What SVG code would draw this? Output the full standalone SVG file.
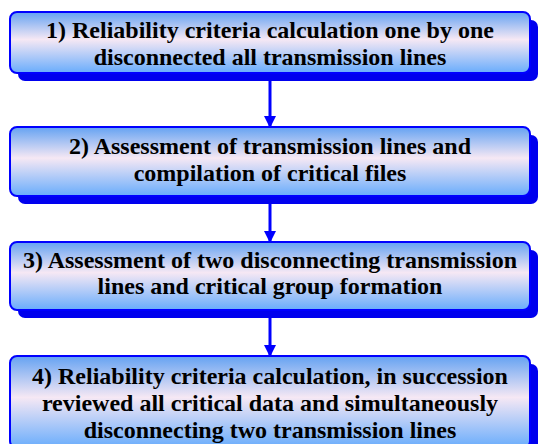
<svg xmlns="http://www.w3.org/2000/svg" width="539" height="444" viewBox="0 0 539 444">
  <defs>
    <linearGradient id="boxFill" x1="0" y1="0" x2="0" y2="1">
      <stop offset="0" stop-color="#64a2f2"/>
      <stop offset="0.45" stop-color="#f6e8f4"/>
      <stop offset="1" stop-color="#68acfc"/>
    </linearGradient>
    <marker id="arrowHead" viewBox="0 0 12 12" refX="11" refY="6" markerWidth="12" markerHeight="12" markerUnits="userSpaceOnUse" orient="auto">
      <path d="M0,0 L12,6 L0,12 Z" fill="#0000ff"/>
    </marker>
  </defs>
  <style>
    .shadow { fill: #0000ee; }
    .box { fill: url(#boxFill); stroke: #0000ff; stroke-width: 2; }
    .label { font-family: "Liberation Serif", "Times New Roman", serif; font-weight: bold; font-size: 24px; fill: #000; text-anchor: middle; }
    .conn { stroke: #0000ff; stroke-width: 3; fill: none; marker-end: url(#arrowHead); }
  </style>
  <rect width="539" height="444" fill="#ffffff"/>

  <g id="connectors">
    <line class="conn" x1="270" y1="81" x2="270" y2="127"/>
    <line class="conn" x1="270" y1="204" x2="270" y2="242"/>
    <line class="conn" x1="270" y1="318" x2="270" y2="356"/>
  </g>

  <g id="step1">
    <rect class="shadow" x="18" y="20" width="520" height="61" rx="7"/>
    <rect class="box" x="10" y="12" width="520" height="61" rx="7"/>
    <text class="label" x="270" y="38">1) Reliability criteria calculation one by one</text>
    <text class="label" x="270" y="65">disconnected all transmission lines</text>
  </g>

  <g id="step2">
    <rect class="shadow" x="18" y="135" width="520" height="69" rx="7"/>
    <rect class="box" x="10" y="127" width="520" height="69" rx="7"/>
    <text class="label" x="270" y="154">2) Assessment of transmission lines and</text>
    <text class="label" x="270" y="181">compilation of critical files</text>
  </g>

  <g id="step3">
    <rect class="shadow" x="18" y="250" width="520" height="68" rx="7"/>
    <rect class="box" x="10" y="242" width="520" height="68" rx="7"/>
    <text class="label" x="270" y="268">3) Assessment of two disconnecting transmission</text>
    <text class="label" x="270" y="294">lines and critical group formation</text>
  </g>

  <g id="step4">
    <rect class="shadow" x="18" y="364" width="520" height="90" rx="7"/>
    <rect class="box" x="10" y="356" width="520" height="92" rx="7"/>
    <text class="label" x="270" y="384">4) Reliability criteria calculation, in succession</text>
    <text class="label" x="270" y="411">reviewed all critical data and simultaneously</text>
    <text class="label" x="270" y="438">disconnecting two transmission lines</text>
  </g>
</svg>
